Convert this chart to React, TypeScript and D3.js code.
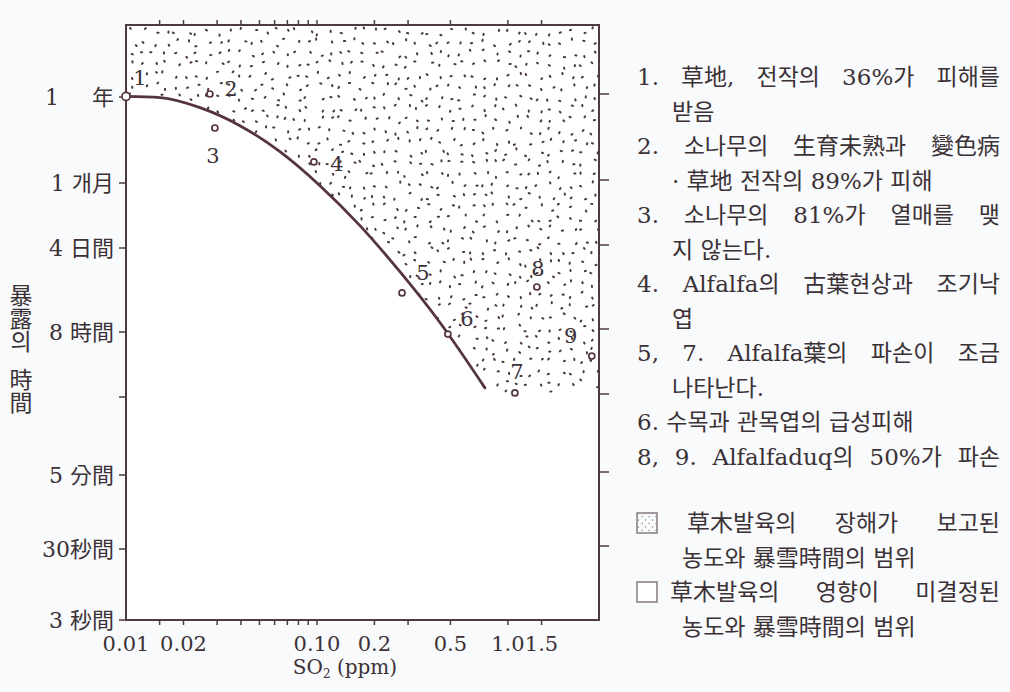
import React from "react";
import * as d3 from "d3";

// SO2 concentration (ppm) vs exposure time (hours)
const curvePpm = [0.01, 0.0151, 0.0244, 0.0395, 0.064, 0.1037, 0.168, 0.272, 0.4406, 0.758];
const curveHours = [8900, 8584, 6420, 3805, 1788, 662, 192, 47.6, 10.6, 1.34];

const pointIds = ["1", "2", "3", "4", "5", "6", "7", "8", "9"];
const pointPpm = [0.01, 0.0275, 0.0292, 0.0964, 0.279, 0.485, 1.088, 1.418, 2.75];
const pointHours = [8900, 9560, 3560, 1326, 25.4, 7.5, 1.14, 30.3, 3.71];
// where the number sits relative to its point
const labelDx = [14, 21, -2, 23, 21, 19, 2, 1, -21];
const labelDy = [-19, -6, 27, 1, -21, -16, -21, -19, -21];

// the damage region ends at about this exposure time on the right
const regionFloorHours = 1.15;

const xTickValues = [0.015, 0.02, 0.03, 0.04, 0.05, 0.06, 0.07, 0.08, 0.09, 0.1, 0.2, 0.3, 0.5, 1.0, 1.5];
const xLabelValues = [0.01, 0.02, 0.1, 0.2, 0.5, 1.0, 1.5];
const xLabelTexts = ["0.01", "0.02", "0.10", "0.2", "0.5", "1.0", "1.5"];

// printed time axis (hours), bottom to top
const yTickHours = [3 / 3600, 30 / 3600, 5 / 60, 1, 8, 96, 720, 8760];
const yTickLabels = ["3 秒間", "30秒間", "5 分間", "", "8 時間", "4 日間", "1 개月", "1\u2003\u2002年"];
// the printed axis is not evenly logarithmic; share of plot height from the top
const yAxisShare = [1, 0.8807, 0.7563, 0.6252, 0.516, 0.3748, 0.2655, 0.121];

const noteLines = [
  ["1. 草地, 전작의 36%가 피해를", "받음"],
  ["2. 소나무의 生育未熟과 變色病", "· 草地 전작의 89%가 피해"],
  ["3. 소나무의 81%가 열매를 맺", "지 않는다."],
  ["4. Alfalfa의 古葉현상과 조기낙", "엽"],
  ["5, 7. Alfalfa葉의 파손이 조금", "나타난다."],
  ["6. 수목과 관목엽의 급성피해"],
  ["8, 9. Alfalfaduq의 50%가 파손"],
];
const legendLines = [
  ["草木발육의 장해가 보고된", "농도와 暴雪時間의 범위"],
  ["草木발육의 영향이 미결정된", "농도와 暴雪時間의 범위"],
];

const W = 1010;
const H = 692;
const plot = { left: 126, right: 599, top: 25, bottom: 620 };
const ink = "#3b3136";
const lineInk = "#4e3a41";
const curveInk = "#55353d";
const font = "'DejaVu Serif', 'Liberation Serif', 'Noto Sans CJK KR', serif";
const noteSize = 23;

let measureCtx: CanvasRenderingContext2D | null = null;
const measure = (t: string, size: number) => {
  if (!measureCtx) measureCtx = document.createElement("canvas").getContext("2d");
  if (!measureCtx) return t.length * size * 0.8;
  measureCtx.font = `${size}px ${font}`;
  return measureCtx.measureText(t).width;
};

// spreads the words of a line so it ends at x1 (justified print)
const justified = (key: string, t: string, x0: number, x1: number, yy: number) => {
  const words = t.split(" ");
  const widths = words.map((w) => measure(w, noteSize));
  const total = d3.sum(widths);
  const gap = words.length > 1 ? (x1 - x0 - total) / (words.length - 1) : 0;
  let cx = x0;
  return words.map((w, i) => {
    const el = (
      <text key={`${key}-${i}`} x={cx} y={yy} dy="0.36em" fontSize={noteSize} fill={ink}>
        {w}
      </text>
    );
    cx += widths[i] + gap;
    return el;
  });
};

// stipple texture: one speck per grid cell, nudged by a fixed hash so it looks hand-dotted
const hash = (i: number, j: number, k: number) => {
  const s = Math.sin(i * 12.9898 + j * 78.233 + k * 37.719) * 43758.5453;
  return s - Math.floor(s);
};
const speckles = (x0: number, y0: number, x1: number, y1: number, cell: number) => {
  const out: { cx: number; cy: number; a: number }[] = [];
  for (let j = 0; y0 + j * cell < y1; j++) {
    for (let i = 0; x0 + i * cell < x1; i++) {
      out.push({
        cx: x0 + (i + 0.15 + 0.7 * hash(i, j, 1)) * cell,
        cy: y0 + (j + 0.15 + 0.7 * hash(i, j, 2)) * cell,
        a: hash(i, j, 3) * 180,
      });
    }
  }
  return out;
};

export default function App() {
  const x = d3.scaleLog().domain([0.01, 3]).range([plot.left, plot.right]);
  const plotH = plot.bottom - plot.top;
  const y = d3
    .scaleLog()
    .domain(yTickHours)
    .range(yAxisShare.map((s) => plot.top + s * plotH));

  const curvePts: [number, number][] = curvePpm.map((p, i) => [x(p), y(curveHours[i])]);
  const line = d3.line().curve(d3.curveMonotoneX);
  const curvePath = line(curvePts) || "";

  const last = curvePts[curvePts.length - 1];
  const floorY = y(regionFloorHours);
  const corners: [number, number][] = [
    [plot.left, plot.top],
    [plot.right, plot.top],
    [plot.right, floorY],
    [last[0] + 4, floorY],
  ];
  const regionPath =
    d3.line()(corners) + (line(curvePts.slice().reverse()) || "").replace(/^M/, "L") + "Z";
  const dots = speckles(plot.left + 1, plot.top + 1, plot.right, floorY + 4, 11);

  const noteStep = 34.5;
  const noteTop = 77;
  const textRight = 1000;
  let row = 0;
  const noteEls: React.ReactNode[] = [];
  noteLines.forEach((lines, ni) => {
    lines.forEach((t, li) => {
      const yy = noteTop + row * noteStep;
      const justify = li === 0 && (lines.length > 1 || ni === noteLines.length - 1);
      const x0 = li === 0 ? 637 : 672;
      if (justify) noteEls.push(...justified(`n${ni}`, t, x0, textRight, yy));
      else
        noteEls.push(
          <text key={`n${ni}-${li}`} x={x0} y={yy} dy="0.36em" fontSize={noteSize} fill={ink}>
            {t}
          </text>
        );
      row++;
    });
  });

  const legendTop = 523;
  const legendEls: React.ReactNode[] = [];
  legendLines.forEach((lines, gi) => {
    const baseY = legendTop + gi * 2 * noteStep;
    legendEls.push(
      <rect
        key={`lb${gi}`}
        x={637}
        y={baseY - 10}
        width={20}
        height={20}
        fill={gi === 0 ? "url(#stipSmall)" : "#fff"}
        stroke="#8c8389"
        strokeWidth={1.6}
      />
    );
    lines.forEach((t, li) => {
      const yy = baseY + li * noteStep;
      if (li === 0) legendEls.push(...justified(`l${gi}`, t, gi === 0 ? 687 : 670, textRight, yy));
      else
        legendEls.push(
          <text key={`l${gi}-${li}`} x={682} y={yy} dy="0.36em" fontSize={noteSize} fill={ink}>
            {t}
          </text>
        );
    });
  });

  return (
    <div style={{ position: "absolute", left: 0, top: 0 }}>
      <svg width={W} height={H} style={{ display: "block", fontFamily: font }}>
        <defs>
          <clipPath id="damage">
            <path d={regionPath} />
          </clipPath>
          <pattern id="stipSmall" width={7} height={7} patternUnits="userSpaceOnUse">
            <circle cx={1.5} cy={2} r={0.7} fill="#8a8088" />
            <circle cx={5} cy={5.5} r={0.7} fill="#8a8088" />
          </pattern>
        </defs>
        <rect width={W} height={H} fill="#f8fafb" />
        <rect x={plot.left} y={plot.top} width={plot.right - plot.left} height={plotH} fill="#fff" />

        <g clipPath="url(#damage)" stroke="#4b383f" strokeWidth={2} strokeLinecap="round">
          {dots.map((d, i) => (
            <line
              key={i}
              x1={d.cx - 0.6}
              x2={d.cx + 0.6}
              y1={d.cy}
              y2={d.cy}
              transform={`rotate(${d.a} ${d.cx} ${d.cy})`}
            />
          ))}
        </g>

        {/* frame */}
        <rect
          x={plot.left}
          y={plot.top}
          width={plot.right - plot.left}
          height={plotH}
          fill="none"
          stroke={lineInk}
          strokeWidth={2}
        />

        {/* x ticks */}
        {xTickValues.map((v) => (
          <g key={`xt${v}`} stroke={lineInk} strokeWidth={1.5}>
            <line x1={x(v)} x2={x(v)} y1={plot.bottom} y2={plot.bottom + 5} />
            <line x1={x(v)} x2={x(v)} y1={plot.top} y2={plot.top - 5} />
          </g>
        ))}
        {xLabelValues.map((v, i) => (
          <text
            key={`xl${v}`}
            x={x(v)}
            y={643}
            dy="0.36em"
            textAnchor="middle"
            fontSize={21}
            fill={ink}
          >
            {xLabelTexts[i]}
          </text>
        ))}
        <text x={345} y={667} dy="0.36em" textAnchor="middle" fontSize={20} fill={ink}>
          SO<tspan fontSize={12} dy={4}>2</tspan>
          <tspan dy={-4}> (ppm)</tspan>
        </text>

        {/* y ticks */}
        {yTickHours.map((h, i) => (
          <g key={`yt${i}`} stroke={lineInk} strokeWidth={1.5}>
            <line x1={plot.left - 7} x2={plot.left} y1={y(h)} y2={y(h)} />
            {i > 0 && <line x1={plot.right} x2={plot.right + 10} y1={y(h) - 3} y2={y(h) - 3} />}
          </g>
        ))}
        {yTickHours.map((h, i) => (
          <text
            key={`yl${i}`}
            x={114}
            y={y(h)}
            dy="0.36em"
            textAnchor="end"
            fontSize={22}
            fill={ink}
            style={{ whiteSpace: "pre" }}
          >
            {yTickLabels[i]}
          </text>
        ))}
        <text x={19} y={284} fontSize={23} fill={ink} style={{ writingMode: "vertical-rl" }}>
          暴露의
        </text>
        <text x={19} y={368} fontSize={23} fill={ink} style={{ writingMode: "vertical-rl" }}>
          時間
        </text>

        {/* threshold curve */}
        <path d={curvePath} fill="none" stroke={curveInk} strokeWidth={2.8} strokeLinecap="round" />

        {/* observations */}
        {pointIds.map((id, i) => {
          const px = x(pointPpm[i]);
          const py = y(pointHours[i]);
          return (
            <g key={`p${id}`}>
              <circle cx={px} cy={py} r={i === 0 ? 4 : 3} fill="#fff" stroke={curveInk} strokeWidth={1.7} />
              <text
                x={px + labelDx[i]}
                y={py + labelDy[i]}
                dy="0.36em"
                textAnchor="middle"
                fontSize={21}
                fill={ink}
              >
                {id}
              </text>
            </g>
          );
        })}

        {noteEls}
        {legendEls}
      </svg>
    </div>
  );
}
